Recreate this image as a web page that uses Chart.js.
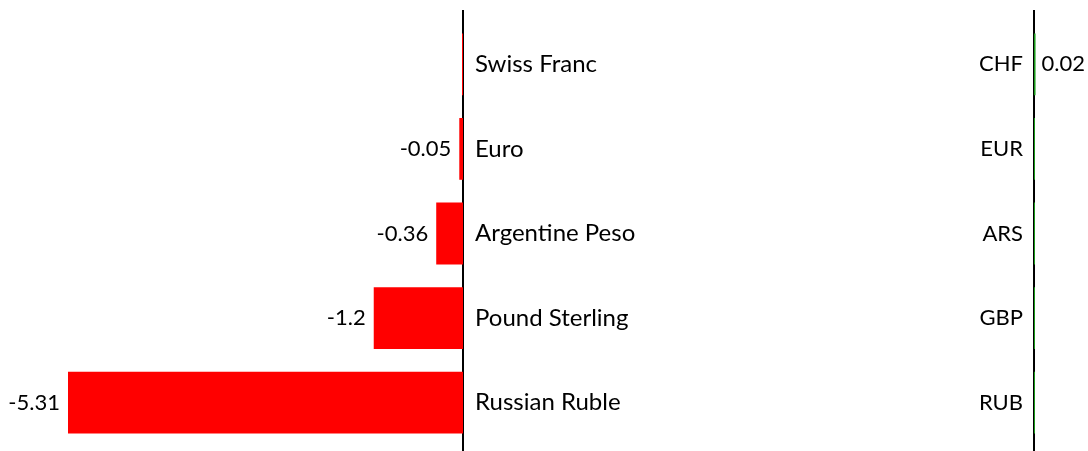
<!DOCTYPE html>
<html>
<head>
<meta charset="utf-8">
<script src="https://cdn.jsdelivr.net/npm/chart.js@4"></script>
<style>
  html, body { margin: 0; padding: 0; background: #fff; }
  #wrap { position: relative; width: 1088px; height: 451px; }
  #left { position: absolute; left: 0; top: 0; }
  #right { position: absolute; left: 960px; top: 0; }
</style>
</head>
<body>
<div id="wrap">
  <canvas id="left" width="960" height="451"></canvas>
  <canvas id="right" width="128" height="451"></canvas>
</div>
<script>
// currency names and codes
const names = ['Swiss Franc', 'Euro', 'Argentine Peso', 'Pound Sterling', 'Russian Ruble'];
const codes = ['CHF', 'EUR', 'ARS', 'GBP', 'RUB'];
// change values
const lossValues = [0, -0.05, -0.36, -1.2, -5.31];
const gainValues = [0.02, 0, 0, 0, 0];

const FONT = 'Lato, "Open Sans", sans-serif';

// vertical zero line across full height, under the bars
const zeroLine = {
    id: 'zeroLine',
    beforeDatasetsDraw(chart) {
        const ctx = chart.ctx;
        const x = chart.scales.x.getPixelForValue(0);
        ctx.save();
        ctx.strokeStyle = '#000';
        ctx.lineWidth = 2;
        ctx.beginPath();
        ctx.moveTo(x, 10);
        ctx.lineTo(x, chart.height);
        ctx.stroke();
        ctx.restore();
    }
};

// value labels beside bar ends, skipped for zero
const valueLabels = {
    id: 'valueLabels',
    afterDatasetsDraw(chart) {
        const ctx = chart.ctx;
        const data = chart.data.datasets[0].data;
        const meta = chart.getDatasetMeta(0);
        ctx.save();
        ctx.font = '22px ' + FONT;
        ctx.fillStyle = '#000';
        ctx.textBaseline = 'middle';
        meta.data.forEach((bar, i) => {
            const v = data[i];
            if (v === 0) return;
            if (v < 0) {
                ctx.textAlign = 'right';
                ctx.fillText(String(v), bar.x - 8, bar.y);
            } else {
                ctx.textAlign = 'left';
                ctx.fillText(String(v), bar.x + 6, bar.y);
            }
        });
        ctx.restore();
    }
};

Chart.defaults.font.family = FONT;
Chart.defaults.color = '#000';

// keep tick padding from eating vertical space
function fixWidth(w) {
    return function(scale) {
        scale.width = w;
        scale.paddingTop = 0;
        scale.paddingBottom = 0;
    };
}

new Chart(document.getElementById('left'), {
    type: 'bar',
    data: {
        labels: names,
        datasets: [{
            data: lossValues,
            backgroundColor: '#ff0000',
            categoryPercentage: 1,
            barPercentage: 0.73,
            minBarLength: 1
        }]
    },
    options: {
        indexAxis: 'y',
        responsive: false,
        animation: false,
        layout: { padding: { left: 68, top: 22, bottom: 6, right: 0 } },
        plugins: { legend: { display: false }, tooltip: { enabled: false } },
        scales: {
            x: { display: false, min: -5.31, max: 0 },
            y: {
                position: 'right',
                grid: { display: false },
                border: { display: false },
                ticks: { font: { size: 24 }, padding: 4 },
                afterFit: fixWidth(497)
            }
        }
    },
    plugins: [zeroLine, valueLabels]
});

new Chart(document.getElementById('right'), {
    type: 'bar',
    data: {
        labels: codes,
        datasets: [{
            data: gainValues,
            backgroundColor: '#1a9a1a',
            categoryPercentage: 1,
            barPercentage: 0.73,
            minBarLength: 1
        }]
    },
    options: {
        indexAxis: 'y',
        responsive: false,
        animation: false,
        layout: { padding: { left: 0, top: 22, bottom: 6, right: 0 } },
        plugins: { legend: { display: false }, tooltip: { enabled: false } },
        scales: {
            x: { display: false, min: 0, max: 0.7 },
            y: {
                position: 'left',
                grid: { display: false },
                border: { display: false },
                ticks: { font: { size: 22 }, padding: 3 },
                afterFit: fixWidth(74)
            }
        }
    },
    plugins: [zeroLine, valueLabels]
});
</script>
</body>
</html>
